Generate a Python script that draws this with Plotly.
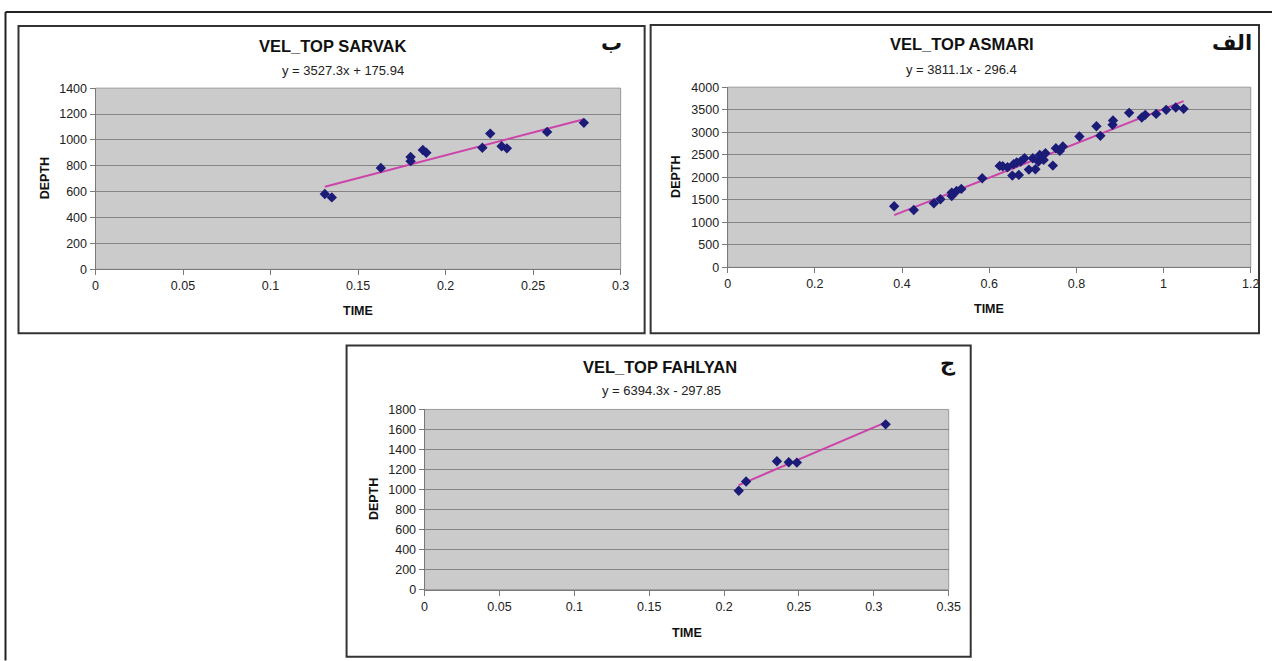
import plotly.graph_objects as go

W, H = 1272, 661

# ---------------- data ----------------
sarvak_time = [0.131, 0.135, 0.163, 0.180, 0.180, 0.187, 0.189, 0.221, 0.2255, 0.232, 0.235, 0.258, 0.279]
sarvak_depth = [582, 556, 784, 868, 836, 922, 901, 940, 1049, 951, 935, 1062, 1132]
sarvak_fit = (3527.3, 175.94)

asmari_time = [0.382, 0.427, 0.473, 0.488, 0.514, 0.514, 0.525, 0.536, 0.584, 0.624, 0.631, 0.642,
               0.653, 0.656, 0.663, 0.668, 0.672, 0.681, 0.691, 0.700, 0.706, 0.713, 0.716, 0.725,
               0.729, 0.746, 0.753, 0.762, 0.769, 0.807, 0.846, 0.855, 0.883, 0.884, 0.921, 0.950,
               0.958, 0.983, 1.006, 1.028, 1.046]
asmari_depth = [1356, 1274, 1422, 1511, 1585, 1659, 1696, 1741, 1978, 2252, 2244, 2222,
                2037, 2289, 2326, 2052, 2348, 2422, 2170, 2422, 2178, 2348, 2496, 2385,
                2533, 2259, 2644, 2585, 2681, 2904, 3133, 2919, 3163, 3259, 3430, 3326,
                3385, 3407, 3496, 3548, 3519]
asmari_fit = (3811.1, -296.4)

fahlyan_time = [0.2098, 0.2147, 0.2353, 0.2432, 0.2486, 0.3079]
fahlyan_depth = [987, 1080, 1282, 1272, 1269, 1651]
fahlyan_fit = (6394.3, -297.85)

titles = ["VEL_TOP SARVAK", "VEL_TOP ASMARI", "VEL_TOP FAHLYAN"]
equations = ["y = 3527.3x + 175.94", "y = 3811.1x - 296.4", "y = 6394.3x - 297.85"]
letters = ["ب", "الف", "ج"]
x_ranges = [(0, 0.3, 0.05), (0, 1.2, 0.2), (0, 0.35, 0.05)]
y_ranges = [(0, 1400, 200), (0, 4000, 500), (0, 1800, 200)]

# ---------------- layout geometry (pixels in the picture) ----------------
# plot areas: left, right, top, bottom
areas = [(95, 620, 87, 268), (727, 1250, 86, 266), (424, 948, 408, 588)]
boxes = [(18, 644, 25, 332), (650, 1265, 24, 332), (346, 970, 344, 655)]
title_pos = [(332, 45), (961, 43), (659, 366)]
eq_pos = [(342, 69), (961, 68), (661, 389)]
time_y = [310, 308, 631]
letter_pos = [(611, 42), (1231, 42), (947, 362)]

# the photographed page comes out slightly shrunk and shifted; compensate
SX, OX, SY, OY = 0.988, 2.5, 0.978, 5.9

def px(x):
    return min((x - OX) / SX, W - 1) / W

def py(y):
    return 1 - ((y - OY) / SY) / H

FONT = "Liberation Sans, Arial, sans-serif"
MARK = "#1b1b78"
LINE = "#cc44aa"

fig = go.Figure()
datasets = [(sarvak_time, sarvak_depth, sarvak_fit),
            (asmari_time, asmari_depth, asmari_fit),
            (fahlyan_time, fahlyan_depth, fahlyan_fit)]

shapes = []
annotations = []

def note(x, y, text, size, family=FONT, angle=0, color="#111"):
    annotations.append(dict(x=px(x), y=py(y), xref="paper", yref="paper", text=text,
                            showarrow=False, xanchor="center", yanchor="middle",
                            textangle=angle, font=dict(family=family, size=size, color=color)))

for i, (t, d, fit) in enumerate(datasets):
    n = "" if i == 0 else str(i + 1)
    xa, ya = "x" + n, "y" + n
    tmin, tmax = min(t), max(t)
    fig.add_trace(go.Scatter(x=[tmin, tmax], y=[fit[0] * tmin + fit[1], fit[0] * tmax + fit[1]],
                             mode="lines", line=dict(color=LINE, width=2),
                             xaxis=xa, yaxis=ya, showlegend=False, hoverinfo="skip"))
    fig.add_trace(go.Scatter(x=t, y=d, mode="markers",
                             marker=dict(symbol="diamond", size=8, color=MARK),
                             xaxis=xa, yaxis=ya, showlegend=False))
    l, r, tp, b = areas[i]
    x0, x1, xs = x_ranges[i]
    y0, y1, ys = y_ranges[i]
    fig.layout["xaxis" + n] = dict(
        domain=[px(l), px(r)], range=[x0, x1], dtick=xs, tick0=0, anchor=ya,
        showgrid=False, zeroline=False, showline=True, linecolor="#7a7a7a", linewidth=1,
        ticks="outside", ticklen=5, tickcolor="#7a7a7a",
        tickfont=dict(family=FONT, size=12.5, color="#222"), fixedrange=True)
    fig.layout["yaxis" + n] = dict(
        domain=[py(b), py(tp)], range=[y0, y1], dtick=ys, tick0=0, anchor=xa,
        showgrid=True, gridcolor="#858585", gridwidth=1, zeroline=False,
        showline=True, linecolor="#7a7a7a", linewidth=1,
        ticks="outside", ticklen=5, tickcolor="#7a7a7a",
        tickfont=dict(family=FONT, size=12.5, color="#222"), fixedrange=True)
    shapes.append(dict(type="rect", xref="paper", yref="paper", layer="below",
                       x0=px(l), x1=px(r), y0=py(b), y1=py(tp),
                       fillcolor="#cbcbcb", line=dict(color="#9a9a9a", width=1)))
    bl, br, bt, bb = boxes[i]
    shapes.append(dict(type="rect", xref="paper", yref="paper",
                       x0=px(bl), x1=px(br), y0=py(bb), y1=py(bt),
                       line=dict(color="#333333", width=2)))
    note(title_pos[i][0], title_pos[i][1], "<b>" + titles[i] + "</b>", 16.5)
    note(eq_pos[i][0], eq_pos[i][1], equations[i], 13, color="#222")
    note((l + r) / 2, time_y[i], "<b>TIME</b>", 12.5)
    note(l - 51, (tp + b) / 2, "<b>DEPTH</b>", 12.5, angle=-90)
    lx, ly = letter_pos[i]
    note(lx, ly, "<b>" + letters[i] + "</b>", 21, family="DejaVu Sans")

# outer frame lines (top and left)
shapes.append(dict(type="line", xref="paper", yref="paper", x0=px(5), x1=1.01, y0=py(11), y1=py(11),
                   line=dict(color="#222", width=2)))
shapes.append(dict(type="line", xref="paper", yref="paper", x0=px(5), x1=px(5), y0=py(11), y1=-0.01,
                   line=dict(color="#222", width=2)))

fig.update_layout(width=W, height=H, margin=dict(l=0, r=0, t=0, b=0),
                  paper_bgcolor="white", plot_bgcolor="rgba(0,0,0,0)",
                  shapes=shapes, annotations=annotations, showlegend=False)

fig.write_html("out.html", config={"displayModeBar": False},
               post_script="document.body.style.margin='0';document.body.style.overflow='hidden';")
